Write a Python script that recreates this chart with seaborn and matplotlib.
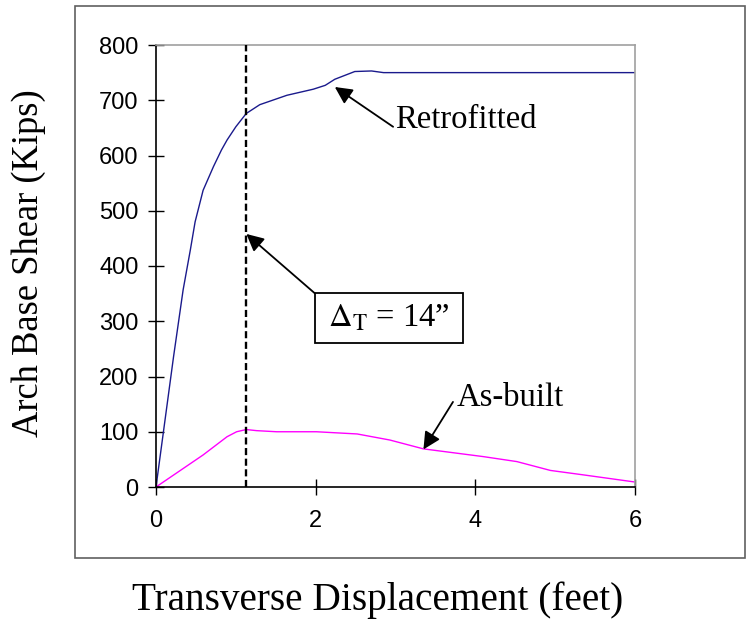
import matplotlib

matplotlib.use("Agg")
import matplotlib.pyplot as plt
import matplotlib.patches as patches
import pandas as pd
import seaborn as sns

# Retrofitted arch: displacement (ft) vs base shear (kips)
retro_disp = [0.0, 0.22, 0.34, 0.43, 0.49, 0.59, 0.72, 0.82, 0.89, 1.00, 1.13,
              1.30, 1.64, 1.97, 2.12, 2.24, 2.49, 2.70, 2.85, 6.00]
retro_shear = [0, 236, 357, 429, 480, 537, 580, 610, 628, 652, 676,
               692, 709, 720, 727, 738, 752, 753, 750, 750]

# As-built arch
built_disp = [0.0, 0.59, 0.89, 1.01, 1.13, 1.26, 1.51, 2.01, 2.52, 2.93, 3.35,
              4.10, 4.52, 4.94, 5.35, 6.00]
built_shear = [0, 58, 91, 100, 104, 102, 100, 100, 96, 85, 69,
               55, 46, 30, 22, 9]

delta_t = 14 / 12 - 0.035  # 14 inches, in feet (as drawn)

x_ticks = [0, 2, 4, 6]
y_ticks = [0, 100, 200, 300, 400, 500, 600, 700, 800]

SERIF = "Liberation Serif"
SANS = "Liberation Sans"

sns.set_style("white")
plt.rcParams["font.family"] = [SANS, "DejaVu Sans"]
plt.rcParams["mathtext.fontset"] = "stix"
for key in ["text.color", "axes.labelcolor", "xtick.color", "ytick.color"]:
    plt.rcParams[key] = "black"

df = pd.concat(
    [
        pd.DataFrame({"disp": retro_disp, "shear": retro_shear, "case": "Retrofitted"}),
        pd.DataFrame({"disp": built_disp, "shear": built_shear, "case": "As-built"}),
    ],
    ignore_index=True,
)

fig = plt.figure(figsize=(7.46, 6.2), dpi=100)
ax = fig.add_axes([156 / 746, 1 - 487 / 620, 479 / 746, 442 / 620])

sns.lineplot(
    data=df, x="disp", y="shear", hue="case",
    palette={"Retrofitted": "#1a1a8c", "As-built": "#ff00ff"},
    estimator=None, sort=False, linewidth=1.0, legend=False, ax=ax,
)

ax.plot([delta_t, delta_t], [0, 800], color="black", lw=1.7,
        dashes=(3.0, 1.5), zorder=3)

ax.set_xlim(0, 6)
ax.set_ylim(0, 800)
ax.set_xticks(x_ticks)
ax.set_yticks(y_ticks)
ax.tick_params(axis="both", direction="inout", length=11, width=1,
               labelsize=17, color="black", labelcolor="black",
               bottom=True, left=True)
ax.tick_params(axis="x", pad=11)
ax.tick_params(axis="y", pad=7)

for side in ["left", "bottom"]:
    ax.spines[side].set_color("black")
    ax.spines[side].set_linewidth(1.2)
for side in ["top", "right"]:
    ax.spines[side].set_color("#a0a0a0")
    ax.spines[side].set_linewidth(1.2)

ax.set_xlabel("Transverse Displacement (feet)", fontsize=28.3, family=SERIF,
              va="center", color="black")
ax.set_ylabel("Arch Base Shear (Kips)", fontsize=26.3, family=SERIF,
              va="center", color="black")
ax.xaxis.set_label_coords(0.4635, -0.2557)
ax.yaxis.set_label_coords(-0.265, 0.507)

arrow = dict(arrowstyle="-|>", color="black", lw=1.3, mutation_scale=26,
             shrinkA=0, shrinkB=0)

# Retrofitted label
ax.text(3.0, 664, "Retrofitted", fontsize=23.5, family=SERIF,
        ha="left", va="center")
ax.annotate("", xy=(2.24, 724), xytext=(2.97, 652), arrowprops=arrow)

# As-built label
ax.text(3.76, 161, "As-built", fontsize=23.5, family=SERIF,
        ha="left", va="center")
ax.annotate("", xy=(3.35, 68), xytext=(3.72, 154), arrowprops=arrow)

# Delta_T box
box = patches.Rectangle((1.99, 260), 1.85, 90.5, fill=True, fc="white",
                        ec="black", lw=1.3, zorder=4)
ax.add_patch(box)
ax.text(2.915, 305, r"$\Delta_{\mathrm{T}}$ = 14”", fontsize=23.5,
        family=SERIF, ha="center", va="center", zorder=5)
ax.annotate("", xy=(delta_t, 458), xytext=(1.99, 350.5), arrowprops=arrow)

# outer frame around the chart
frame = patches.Rectangle((75 / 746, 1 - 558 / 620), 670 / 746, 552 / 620,
                          transform=fig.transFigure, fill=False,
                          ec="#606060", lw=1.2)
fig.patches.append(frame)

fig.savefig("out.png", dpi=100)
